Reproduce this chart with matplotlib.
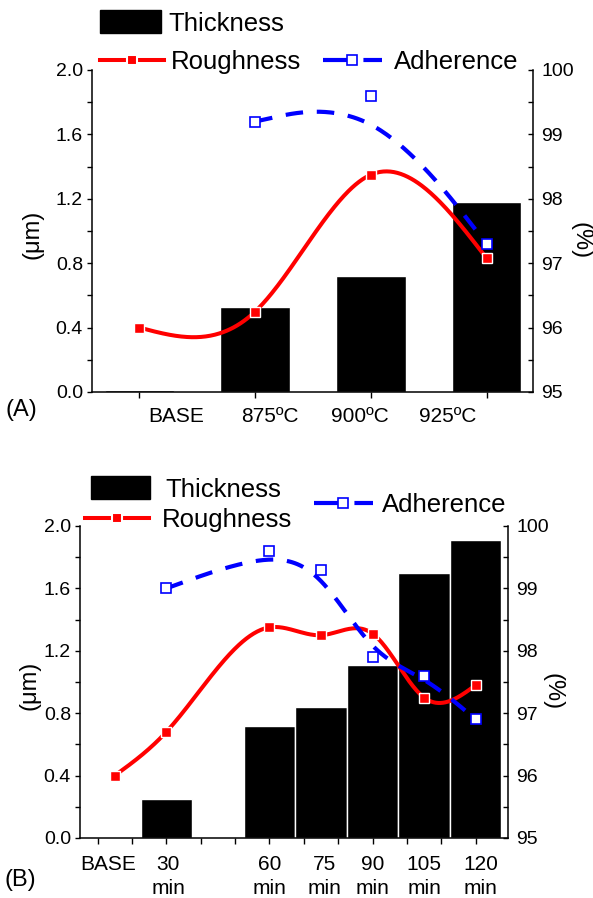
import numpy as np
import matplotlib
matplotlib.use("Agg")
import matplotlib.pyplot as plt
from matplotlib.patches import Patch
from matplotlib.lines import Line2D
from matplotlib.transforms import blended_transform_factory

plt.rcParams['font.family'] = ['Liberation Sans', 'DejaVu Sans']

# ---- panel A : temperature series
temp_x = [0, 1, 2, 3]
temp_labels = ['BASE', '875ºC', '900ºC', '925ºC']
temp_label_x = [0.32, 1.13, 1.90, 2.66]
thick_a = [0.01, 0.53, 0.72, 1.18]
rough_a = [0.40, 0.50, 1.35, 0.83]
adh_a_x = [1, 2, 3]
adh_a = [99.2, 99.6, 97.3]

# ---- panel B : time series
time_x = [15, 30, 60, 75, 90, 105, 120]
time_labels = ['BASE', '30\nmin', '60\nmin', '75\nmin', '90\nmin', '105\nmin', '120\nmin']
time_label_x = [13, 30.5, 60, 76, 90, 105, 121.5]
thick_b = [0.0, 0.25, 0.72, 0.84, 1.11, 1.70, 1.91]
rough_b = [0.40, 0.68, 1.35, 1.30, 1.31, 0.90, 0.98]
adh_b_x = [30, 60, 75, 90, 105, 120]
adh_b = [99.0, 99.6, 99.3, 97.9, 97.6, 96.9]

RED = '#ff0000'
BLUE = '#0000ff'
W, H = 593, 898


def natural_spline(xs, ys, num=300):
    xs = np.asarray(xs, float); ys = np.asarray(ys, float)
    n = len(xs); h = np.diff(xs)
    A = np.zeros((n, n)); b = np.zeros(n)
    A[0, 0] = A[-1, -1] = 1
    for i in range(1, n - 1):
        A[i, i-1] = h[i-1]; A[i, i] = 2*(h[i-1] + h[i]); A[i, i+1] = h[i]
        b[i] = 6*((ys[i+1]-ys[i])/h[i] - (ys[i]-ys[i-1])/h[i-1])
    M = np.linalg.solve(A, b)
    xx = np.linspace(xs[0], xs[-1], num)
    j = np.clip(np.searchsorted(xs, xx) - 1, 0, n - 2)
    hj = h[j]
    a = (xs[j+1] - xx)/hj
    c = (xx - xs[j])/hj
    yy = a*ys[j] + c*ys[j+1] + ((a**3 - a)*M[j] + (c**3 - c)*M[j+1])*hj**2/6
    return xx, yy


def bspline(xs, ys, num=60):
    # uniform cubic B-spline, end points tripled so the curve starts/ends on them
    P = np.column_stack([xs, ys]).astype(float)
    P = np.vstack([P[:1], P[:1], P, P[-1:], P[-1:]])
    u = np.linspace(0, 1, num)
    B = np.column_stack([(1-u)**3, 3*u**3 - 6*u**2 + 4,
                         -3*u**3 + 3*u**2 + 3*u + 1, u**3])/6
    pts = np.vstack([B @ P[i:i+4] for i in range(len(P) - 3)])
    return pts[:, 0], pts[:, 1]


def panel(box, xlim, bar_x, thick, width, rx, rough, ax_x, adh,
          major_x, labels, label_x, label_dy, tag, tag_xy, ylab_x, plab_x):
    l, t, r, b = box
    ax = fig.add_axes([l/W, 1 - b/H, (r - l)/W, (b - t)/H])
    ax.bar(bar_x, thick, width=width, color='black', edgecolor='white', linewidth=1, zorder=2)
    xx, yy = natural_spline(rx, rough)
    ax.plot(xx, yy, color=RED, lw=2.9, zorder=3)
    ax.plot(rx, rough, 's', color=RED, ms=7.5, mec='white', mew=1.0, zorder=4)
    ax.set_xlim(*xlim)
    ax.set_ylim(0, 2.0)
    ax.set_yticks(np.arange(0, 2.01, 0.4))
    ax.set_yticks(np.arange(0, 2.01, 0.2), minor=True)
    ax.set_yticklabels(['%.1f' % v for v in np.arange(0, 2.01, 0.4)])
    ax.set_xticks(major_x)
    ax.set_xticklabels([])
    ax.tick_params(axis='y', which='both', direction='out', length=3.5, width=1, labelsize=14, pad=3)
    ax.tick_params(axis='x', which='both', direction='out', length=4.5, width=1)
    for s in ('left', 'bottom'):
        ax.spines[s].set_linewidth(1.1)
    ax.spines['top'].set_visible(False)
    ax.spines['right'].set_visible(False)
    tr = blended_transform_factory(ax.transData, ax.transAxes)
    for xp, lab in zip(label_x, labels):
        ax.text(xp, label_dy, lab, transform=tr, ha='center', va='top', fontsize=15,
                linespacing=1.35)
    ax.text(ylab_x, 0.49, '(μm)', transform=ax.transAxes, rotation=90, ha='center',
            va='center', fontsize=17)

    ax2 = ax.twinx()
    bx, by = bspline(ax_x, adh)
    ax2.plot(bx, by, color=BLUE, lw=3, dashes=(4.2, 3.3), zorder=3)
    ax2.plot(ax_x, adh, 's', mfc='white', mec=BLUE, mew=1.2, ms=7, zorder=4)
    ax2.set_ylim(95, 100)
    ax2.set_yticks(range(95, 101))
    ax2.set_yticks(np.arange(95, 100.01, 0.5), minor=True)
    ax2.tick_params(axis='y', which='both', direction='in', length=3.5, width=1, labelsize=14, pad=6)
    ax2.spines['right'].set_linewidth(1.1)
    ax2.spines['top'].set_visible(False)
    ax2.spines['left'].set_visible(False)
    ax2.spines['bottom'].set_visible(False)
    ax2.text(plab_x, 0.47, '(%)', transform=ax.transAxes, rotation=270, ha='center',
             va='center', fontsize=17)
    fig.text(tag_xy[0]/W, 1 - tag_xy[1]/H, tag, ha='center', va='center', fontsize=17)
    return ax, ax2


def entry(handle, label, x, y, hl, pad, hh=0.7):
    leg = fig.legend([handle], [label], loc='center left', bbox_to_anchor=(x/W, 1 - y/H),
                     frameon=False, fontsize=18.5, handlelength=hl, handleheight=hh,
                     handletextpad=pad, borderpad=0, borderaxespad=0, numpoints=1)
    return leg


fig = plt.figure(figsize=(W/100, H/100), dpi=100)

panel((92, 70, 533, 392), (-0.41, 3.40), temp_x, thick_a, 0.6, temp_x, rough_a,
      adh_a_x, adh_a, temp_x, temp_labels, temp_label_x, -0.047,
      '(A)', (21, 410), -0.134, 1.107)

panel((80, 526, 508, 838), (4.9, 129.4), time_x, thick_b, 15, time_x, rough_b,
      adh_b_x, adh_b, list(range(10, 121, 10)), time_labels, time_label_x, -0.054,
      '(B)', (20, 880), -0.117, 1.105)

thick_h = Patch(facecolor='black', edgecolor='black')
rough_h = Line2D([], [], color=RED, lw=2.9, marker='s', ms=7.5, mec='white', mew=1.5)
adh_h = Line2D([], [], color=BLUE, lw=3, dashes=(6.5, 3.2), marker='s', mfc='white',
               mec=BLUE, mew=1.2, ms=7)

entry(thick_h, 'Thickness', 100, 23, 2.36, 0.32, hh=1.0)
entry(rough_h, 'Roughness', 100, 62, 2.48, 0.28)
entry(adh_h, 'Adherence', 323, 62, 2.28, 0.48)

entry(thick_h, 'Thickness', 91, 489, 2.28, 0.6, hh=1.0)
entry(rough_h, 'Roughness', 85, 520, 2.48, 0.5)
entry(adh_h, 'Adherence', 314, 505, 2.28, 0.36)

fig.savefig('out.png', dpi=100)
